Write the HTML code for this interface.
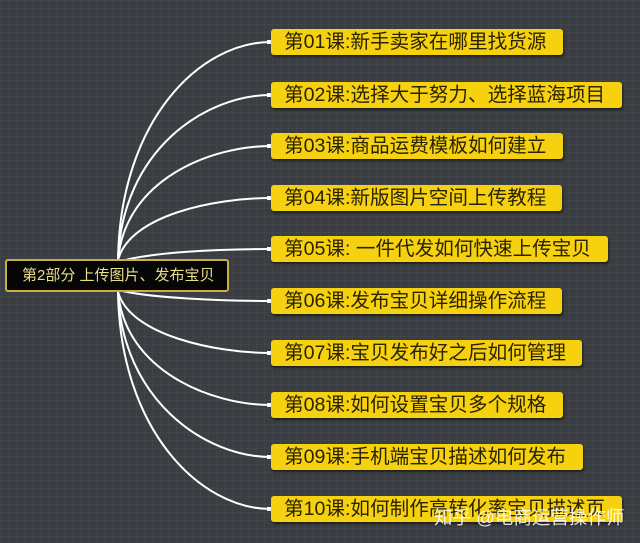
<!DOCTYPE html>
<html><head><meta charset="utf-8"><style>
body{margin:0;width:640px;height:543px;overflow:hidden;background:#3a3d41;font-family:"Liberation Sans","Noto Sans CJK SC",sans-serif;position:relative;
background-image:linear-gradient(rgba(255,255,255,0.03) 1px,transparent 1px),linear-gradient(90deg,rgba(255,255,255,0.03) 1px,transparent 1px);background-size:8px 8px}
.b{position:absolute;left:271px;height:26px;background:#f5d10f;border-radius:3px;box-shadow:1px 2px 2px rgba(0,0,0,.5);color:#2a2200;font-size:19.6px;line-height:27px;padding-left:13px;box-sizing:border-box;white-space:nowrap;overflow:hidden}
.c{position:absolute;left:5px;top:259px;width:224px;height:33px;background:#060606;border:2px solid #c9b040;border-radius:3px;box-sizing:border-box;color:#e9df8a;font-size:15px;line-height:29px;padding-left:15px;white-space:nowrap}
.w{position:absolute;left:434px;top:504px;color:rgba(255,255,255,.85);font-size:18.5px;white-space:nowrap}
</style></head><body>
<svg width="640" height="543" style="position:absolute;left:0;top:0">
<g fill="none" stroke="#fff" stroke-width="2">
<path d="M118 260 C120 120 200 42 271 42"/>
<path d="M118 260 C122 150 205 95 271 95"/>
<path d="M118 260 C125 180 210 146 271 146"/>
<path d="M118 260 C130 215 215 198 271 198"/>
<path d="M118 262 C150 252 220 249 271 249"/>
<path d="M118 290 C150 298 220 301 271 301"/>
<path d="M118 292 C130 335 215 353 271 353"/>
<path d="M118 292 C125 370 210 405 271 405"/>
<path d="M118 292 C122 400 205 457 271 457"/>
<path d="M118 292 C120 430 200 509 271 509"/>
</g>
<g fill="#fff">
<rect x="267" y="40" width="4" height="4"/><rect x="267" y="93" width="4" height="4"/><rect x="267" y="144" width="4" height="4"/><rect x="267" y="196" width="4" height="4"/><rect x="267" y="247" width="4" height="4"/><rect x="267" y="299" width="4" height="4"/><rect x="267" y="351" width="4" height="4"/><rect x="267" y="403" width="4" height="4"/><rect x="267" y="455" width="4" height="4"/><rect x="267" y="507" width="4" height="4"/>
</g></svg>
<div class="c">第2部分 上传图片、发布宝贝</div>
<div class="b" style="top:29px;width:292px">第01课:新手卖家在哪里找货源</div>
<div class="b" style="top:82px;width:351px">第02课:选择大于努力、选择蓝海项目</div>
<div class="b" style="top:133px;width:292px">第03课:商品运费模板如何建立</div>
<div class="b" style="top:185px;width:291px">第04课:新版图片空间上传教程</div>
<div class="b" style="top:236px;width:337px">第05课: 一件代发如何快速上传宝贝</div>
<div class="b" style="top:288px;width:291px">第06课:发布宝贝详细操作流程</div>
<div class="b" style="top:340px;width:311px">第07课:宝贝发布好之后如何管理</div>
<div class="b" style="top:392px;width:292px">第08课:如何设置宝贝多个规格</div>
<div class="b" style="top:444px;width:312px">第09课:手机端宝贝描述如何发布</div>
<div class="b" style="top:496px;width:351px">第10课:如何制作高转化率宝贝描述页</div>
<div class="w">知乎 @电商运营操作师</div>
</body></html>
